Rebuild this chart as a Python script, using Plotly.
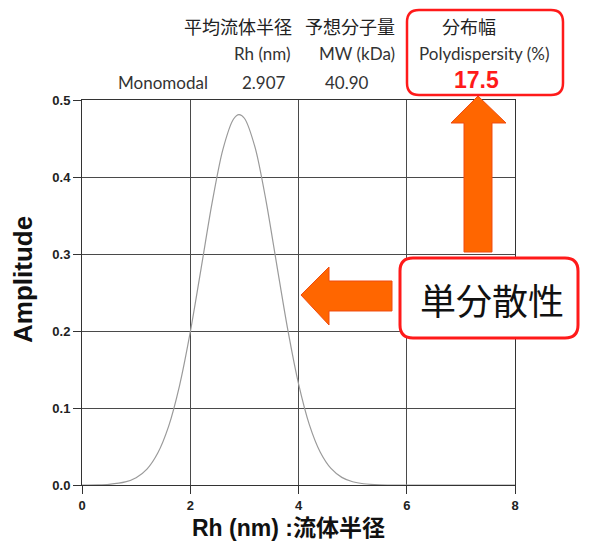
import plotly.graph_objects as go

# ---- data ----
rh_nm = [0, 0.3, 0.5, 0.8, 1.0, 1.2, 1.4, 1.6, 1.8, 2.0, 2.2, 2.4, 2.6, 2.8, 2.9,
         3.0, 3.2, 3.4, 3.6, 3.8, 4.0, 4.2, 4.4, 4.6, 4.8, 5.0, 5.2, 5.5, 6.0, 8.0]
amplitude = [0, 0.0002, 0.0009, 0.004, 0.0095, 0.0207, 0.0416, 0.0762, 0.1285, 0.1984,
             0.2811, 0.3651, 0.4350, 0.4753, 0.481, 0.4763, 0.4378, 0.3691, 0.2853,
             0.2023, 0.1316, 0.0784, 0.0429, 0.0215, 0.0099, 0.0042, 0.0016, 0.0003, 0, 0]

header_jp = ["平均流体半径", "予想分子量", "分布幅"]
header_en = ["Rh (nm)", "MW (kDa)", "Polydispersity (%)"]
row_label = "Monomodal"
row_values = ["2.907", "40.90", "17.5"]
x_title = "Rh (nm) :流体半径"
y_title = "Amplitude"
callout = "単分散性"

# ---- pixel frame (screen pixels; the page body adds an 8px margin) ----
OFF = 8
SCREEN_W, SCREEN_H = 589, 549
WIDTH, HEIGHT = SCREEN_W - OFF, SCREEN_H - 2 * OFF   # avoid vertical overflow / scrollbar
L, R, T, B = 82, 515, 100, 485
PW, PH = R - L, B - T


def px(x):
    return (x - L) / PW


def py(y):
    return (B - y) / PH


def poly_path(pts):
    s = "M {:.5f} {:.5f}".format(px(pts[0][0]), py(pts[0][1]))
    for x, y in pts[1:]:
        s += " L {:.5f} {:.5f}".format(px(x), py(y))
    return s + " Z"


def round_rect(x0, y0, x1, y1, r):
    P = lambda x, y: "{:.5f} {:.5f}".format(px(x), py(y))
    return ("M " + P(x0 + r, y0) + " L " + P(x1 - r, y0) +
            " Q " + P(x1, y0) + " " + P(x1, y0 + r) +
            " L " + P(x1, y1 - r) +
            " Q " + P(x1, y1) + " " + P(x1 - r, y1) +
            " L " + P(x0 + r, y1) +
            " Q " + P(x0, y1) + " " + P(x0, y1 - r) +
            " L " + P(x0, y0 + r) +
            " Q " + P(x0, y0) + " " + P(x0 + r, y0) + " Z")


fig = go.Figure()
fig.add_trace(go.Scatter(x=rh_nm, y=amplitude, mode="lines",
                         line=dict(color="#9a9a9a", width=1.2, shape="spline", smoothing=0.8),
                         hoverinfo="skip", showlegend=False))

axis_common = dict(showgrid=True, gridcolor="#4a4a4a", gridwidth=1,
                   showline=True, linecolor="#333333", linewidth=1, mirror=True,
                   ticks="outside", ticklen=8, tickcolor="#333333", zeroline=False,
                   tickfont=dict(family="Liberation Sans, Arial", size=13, color="#222222", weight="bold"))

fig.update_xaxes(range=[0, 8], dtick=2, tick0=0, **axis_common)
fig.update_yaxes(range=[0, 0.5], dtick=0.1, tick0=0, tickformat=".1f", **axis_common)

shapes = []
# up arrow
shapes.append(dict(type="path", xref="paper", yref="paper", layer="above",
                   path=poly_path([(464, 252), (464, 123), (451, 123), (478, 96),
                                   (506, 123), (492, 123), (492, 252)]),
                   fillcolor="#ff6600", line=dict(color="#f04a10", width=1)))
# left arrow
shapes.append(dict(type="path", xref="paper", yref="paper", layer="above",
                   path=poly_path([(392, 281), (329, 281), (329, 267), (301, 295),
                                   (329, 325), (329, 311), (392, 311)]),
                   fillcolor="#ff6600", line=dict(color="#f04a10", width=1)))
# top red rounded box
shapes.append(dict(type="path", xref="paper", yref="paper", layer="above",
                   path=round_rect(407, 10, 563, 95, 12),
                   fillcolor="rgba(255,255,255,0)", line=dict(color="#ff1a1a", width=2.5)))
# callout box
shapes.append(dict(type="path", xref="paper", yref="paper", layer="above",
                   path=round_rect(400, 258, 578, 338, 13),
                   fillcolor="white", line=dict(color="#ff1a1a", width=3)))
fig.update_layout(shapes=shapes)

JP = "Noto Sans CJK JP"
EN = "Lato, Noto Sans"
anns = []


def ann(text, x, y, size, family, color="#222222", weight="normal", xanchor="center", angle=0):
    anns.append(dict(text=text, x=px(x), y=py(y), xref="paper", yref="paper",
                     xanchor=xanchor, yanchor="middle", showarrow=False, textangle=angle,
                     font=dict(family=family, size=size, color=color, weight=weight)))


jp_x = [238, 350, 469]
en_x = [262, 357, 484]
val_x = [264, 347, 476]
for t, x in zip(header_jp, jp_x):
    ann(t, x, 26, 18, JP)
for t, x in zip(header_en, en_x):
    ann(t, x, 53, 17, EN, color="#333333")
ann(row_label, 163, 82, 17, EN, color="#333333")
ann(row_values[0], val_x[0], 82, 17, EN, color="#333333")
ann(row_values[1], val_x[1], 82, 17, EN, color="#333333")
ann(row_values[2], val_x[2], 80, 23, "Liberation Sans, Arial", color="#ff1a1a", weight="bold")

ann(callout, 492, 299, 36, JP, color="#111111")
ann(y_title, 23, 280, 26, "Liberation Sans, Arial, " + JP, color="#111111", weight="bold", angle=-90)
ann(x_title, 288, 528, 23, "Liberation Sans, Arial, " + JP, color="#111111", weight="bold")

fig.update_layout(annotations=anns, width=WIDTH, height=HEIGHT,
                  margin=dict(l=L - OFF, r=SCREEN_W - R, t=T - OFF, b=(OFF + HEIGHT) - B, pad=0),
                  paper_bgcolor="white", plot_bgcolor="white", showlegend=False)

fig.write_html("out.html")
